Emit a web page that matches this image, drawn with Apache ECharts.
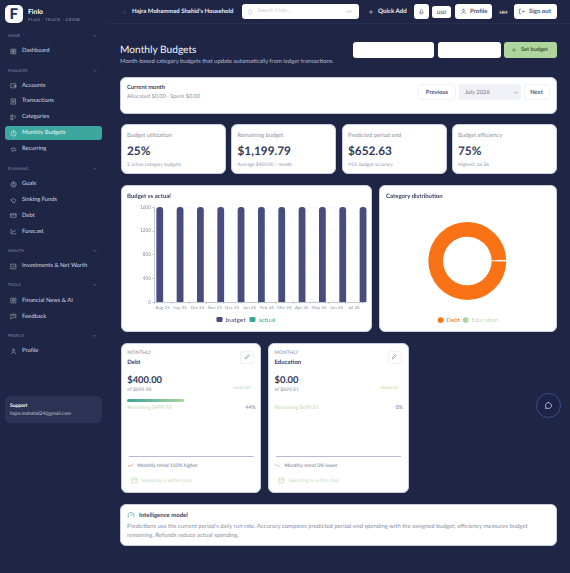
<!DOCTYPE html>
<html><head><meta charset="utf-8">
<script src="https://cdn.jsdelivr.net/npm/echarts@6/dist/echarts.min.js"></script>
<style>
html,body{margin:0;padding:0;width:570px;height:573px;overflow:hidden;background:#1e2545;font-family:Lato,sans-serif;text-rendering:geometricPrecision}
.t{position:absolute;white-space:nowrap;transform:translateY(-50%);line-height:1;margin-top:.4px}
.b{position:absolute;box-sizing:border-box}
.card{position:absolute;box-sizing:border-box;background:#fff;border-radius:6px;border:1px solid #c9cfe0}
svg{position:absolute;fill:none;stroke-linecap:round;stroke-linejoin:round}
#c1,#c2{position:absolute}
</style></head><body>
<div id="c1" style="left:121px;top:185px;width:250px;height:147px;z-index:3"></div>
<div id="c2" style="left:379px;top:185px;width:178px;height:147px;z-index:3"></div>
<script>
const months=['Aug 25','Sep 25','Oct 25','Nov 25','Dec 25','Jan 26','Feb 26','Mar 26','Apr 26','May 26','Jun 26','Jul 26'];
const budgetValues=[1600,1600,1600,1600,1600,1600,1600,1600,1600,1600,1600,1600];
const actualValues=[0,0,0,0,0,0,0,0,0,0,0,0];
const yTicks=[0,400,800,1200,1600];
const categoryNames=['Debt','Education'];
const categoryValues=[400,0];
const icons={grid:['M4 4h7v7H4zM13 4h7v7h-7zM4 13h7v7H4zM13 13h7v7h-7z'],wallet:['M4 6h16v14H4zM15 12h5v4h-5z'],list:['M5 3h14v18H5zM9 8h6M9 12h6M9 16h4'],tag:['M4 4h6v6H4zM14 4l6 6-6 6M4 14h6v6H4z'],clock:['M12 3a9 9 0 1 0 0 18a9 9 0 0 0 0-18M12 7v5l3 2'],loop:['M4 12V8h14l-3-3M20 12v4H6l3 3'],target:['M12 3a9 9 0 1 0 0 18a9 9 0 0 0 0-18M12 8a4 4 0 1 0 0 8a4 4 0 0 0 0-8'],pig:['M5 11c0-3 3-5 7-5s8 2 8 5-3 5-4 5v3h-7v-3c-2 0-4-2-4-5M3 9l2 2'],card:['M3 6h18v12H3zM3 10h18'],chart:['M4 4v16h16M7 15l4-5 3 3 5-6'],inv:['M4 4h16v16H4zM8 15l3-4 3 2 3-4'],news:['M4 4h16v16H4zM8 8h8M8 12h8M8 16h5'],msg:['M4 4h16v12H9l-5 4zM8 9h8'],user:['M12 4a4 4 0 1 0 0 8a4 4 0 0 0 0-8M5 20c1-4 4-6 7-6s6 2 7 6']};
const navItems=[['s','HOME',36],['i','Dashboard',51,'grid'],['s','FINANCES',70.5],['i','Accounts',85.5,'wallet'],['i','Transactions',101,'list'],['i','Categories',117,'tag'],['a','Monthly Budgets',133,'clock'],['i','Recurring',149,'loop'],['s','PLANNING',168.5],['i','Goals',184,'target'],['i','Sinking Funds',200,'pig'],['i','Debt',215.5,'card'],['i','Forecast',231.5,'chart'],['s','WEALTH',250.5],['i','Investments & Net Worth',266,'inv'],['s','TOOLS',285],['i','Financial News & AI',300.5,'news'],['i','Feedback',316.5,'msg'],['s','PROFILE',336],['i','Profile',351,'user']];
const kpis=[['Budget utilization','25%','2 active category budgets',120.5],['Remaining budget','$1,199.79','Average $400.00 / month',231],['Predicted period end','$652.63','41% budget accuracy',341.5],['Budget efficiency','75%','Highest: Jul 26',451.5]];
const budgets=[['Debt','$400.00','of $899.98','Remaining $499.98','44%','Monthly trend 100% higher',120.7,'#e4572e'],['Education','$0.00','of $699.81','Remaining $699.81','0%','Monthly trend 0% lower',268,'#7fb77e']];

function T(s,x,y,size,color,weight,extra){const e=document.createElement('div');e.className='t';e.textContent=s;
 e.style.cssText+=`left:${x}px;top:${y}px;font-size:${size}px;color:${color};font-weight:${weight||400};z-index:5;`+(extra||'');document.body.appendChild(e);return e}
function B(x,y,w,h,css,cls){const e=document.createElement('div');e.className=cls||'b';e.style.cssText+=`left:${x}px;top:${y}px;width:${w}px;height:${h}px;`+(css||'');document.body.appendChild(e);return e}
function I(x,y,s,color,paths,sw){const n='http://www.w3.org/2000/svg';const v=document.createElementNS(n,'svg');v.setAttribute('viewBox','0 0 24 24');v.setAttribute('width',s);v.setAttribute('height',s);v.style.cssText=`left:${x-s/2}px;top:${y-s/2}px;stroke:${color};stroke-width:${sw||2};z-index:5`;v.innerHTML=paths.map(d=>`<path d="${d}"/>`).join('');document.body.appendChild(v)}
const box='M4 4h16v16H4z',chev='M6 9l6 6 6-6',plus='M12 5v14M5 12h14';
const navIcon='#9fb3b0';
// sidebar
B(5,5,18,18,'background:#fff;border-radius:5px');
T('F',9.5,14,15,'#1e2f6e',900);
T('Finlo',28,12,6.8,'#fff',700);
T('PLAN · TRACK · GROW',28,19.5,3.9,'#9aa3bd',400,'letter-spacing:.62px');
B(5,125.5,96.5,14.5,'background:#3ba79f;border-radius:3px');
navItems.forEach(([k,s,y,ic])=>{
 if(k==='s'){T(s,8,y,3.7,'#8f97b3',400,'letter-spacing:.2px');I(95,y,5.5,'#8f97b3',[chev]);}
 else{T(s,22,y,5.8,k==='a'?'#eef8f6':'#d4d8e6',400);I(13,y,7,k==='a'?'#e6f5f2':navIcon,icons[ic]);}
});
B(5,396,96.5,27,'background:#2b3253;border-radius:5px');
T('Support',10,405.5,4.9,'#fff',700);
T('hajra.mshahid24@gmail.com',10,414,4.9,'#c3c8d9',400);
// header
B(108,23,462,1,'background:#272e50');
I(124,12,5,'#9aa3bd',['M15 6l-6 6 6 6']);
T("Hajra Mohammad Shahid's Household",132,12,6,'#eceef5',700);
B(242,4,117,15,'background:#fff;border-radius:3px');
I(250,12,6.5,'#b8bdcc',['M11 4a7 7 0 1 0 0 14a7 7 0 0 0 0-14M16 16l4 4']);
T('Search Finlo...',258,12,5.4,'#c8ccd8',400);
T('⌘K',346,12,4,'#c8ccd8',400);
I(371,11.5,6,'#eceef5',[plus]);
T('Quick Add',378,12,6.2,'#eceef5',700);
B(414,4,14.5,15,'background:#fff;border-radius:3px');
I(421,11.5,7,'#555b75',['M6 17h12l-2-3V10a4 4 0 0 0-8 0v4zM10 20h4']);
B(432,5.5,19,12,'background:#fff;border-radius:2.5px');
T('USD',441.5,12,4.6,'#555b75',700,'transform:translate(-50%,-50%)');
B(455,4,37,15,'background:#fff;border-radius:3px');
I(463,11.5,7,'#555b75',['M12 4a4 4 0 1 0 0 8a4 4 0 0 0 0-8M5 20c1-4 4-6 7-6s6 2 7 6']);
T('Profile',470,12,6,'#4c5270',700);
T('HM',503.5,12,4.6,'#e6e8f0',700,'transform:translate(-50%,-50%)');
B(514,4,42.5,15,'background:#fff;border-radius:3px');
I(521,11.5,7,'#555b75',['M10 4H5v16h5M13 12h8M18 9l3 3-3 3']);
T('Sign out',529,12,6,'#4c5270',700);
// title row
T('Monthly Budgets',120,49.5,10.2,'#f4f5fa',400);
T('Month-based category budgets that update automatically from ledger transactions.',120,62,5.9,'#b5bbd0',400);
B(353,42,81,15.5,'background:#fff;border-radius:3px');
B(438,42,62.5,15.5,'background:#fff;border-radius:3px');
B(504,42,52.5,15.5,'background:#aed59c;border-radius:3px');
I(514,49.5,6,'#3f5a3c',[plus]);
T('Set budget',521,50,5.6,'#3f5a3c',700);
// current month
B(120.3,76.5,436.4,37.5,'border-radius:6px','card');
T('Current month',127,88,5.8,'#3c4160',700);
T('Allocated $0.00 · Spent $0.00',127,97,5.6,'#8d92a6',400);
B(418,84,38,15.5,'background:#fff;border:1px solid #f1f2f6;border-radius:3px');
T('Previous',437,92.5,5.8,'#4c5270',700,'transform:translate(-50%,-50%)');
B(458.5,84,62.5,15.5,'background:#f1f2f7;border-radius:3px');
T('July 2026',465,92.5,5.8,'#6f7590',400);
I(516,92.5,5.5,'#4c5270',[chev]);
B(523.5,84,26.5,15.5,'background:#fff;border:1px solid #f1f2f6;border-radius:3px');
T('Next',536.5,92.5,5.8,'#4c5270',700,'transform:translate(-50%,-50%)');
// KPI
kpis.forEach(([a,v,s,x])=>{
 B(x,124,105,50.3,'','card');
 T(a,x+6.5,135.5,5.8,'#8a8fa3',400);
 T(v,x+6.5,151,11.8,'#33385a',700);
 T(s,x+6.5,164.5,4.8,'#9095a8',400);
});
// chart cards
B(120.7,184.7,251,147.5,'','card');
B(379,184.7,177.7,147.5,'','card');
T('Budget vs actual',127,196.5,6,'#3c4160',700);
T('Category distribution',386,196.5,6,'#3c4160',700);
// budget cards
budgets.forEach(([n,v,o,r,p,tr,x,ic],i)=>{
 B(x,342.7,140.7,150.6,'','card');
 T('MONTHLY',x+6.5,353,4.9,'#8a8fa3',400);
 T(n,x+6.5,362.5,6,'#3c4160',700);
 B(x+119.5,350.5,14,13,'background:#fff;border:1px solid #f0f1f5;border-radius:3px');
 I(x+126.5,356.5,7,'#6f7590',['M5 19l1-4L16 5l3 3L9 18z']);
 T(v,x+6.5,380.5,9.4,'#33385a',700);
 T(o,x+6.5,390,5,'#8a8fa3',400);
 T('HEALTHY',x+112.5,388,3.9,'#c3dcb8',700);
 T(r,x+6.5,408.5,5.2,'#bcd9af',400);
 const pe=T(p,0,408.5,5.2,'#6f7590',400);pe.style.left='auto';pe.style.right=(570-(x+135))+'px';
 if(i===0)B(x+6.5,399,56.5,3,'background:linear-gradient(90deg,#3aa39b,#aed59c);border-radius:2px');
 B(x+8,456,125,1,'background:#b9b8d6');
 I(x+9.5,465.5,7,ic,i===0?['M3 17l6-6 4 4 8-8']:['M3 7l6 6 4-4 8 8']);
 T(tr,x+16.5,465.5,5,'#6f7590',400);
 I(x+13.5,480.5,7,'#aed59c',[box,'M4 10h16']);
 T('Spending is within plan',x+20.5,480.5,5,'#c3dcb8',400);
});
// intelligence
B(120.3,503.7,436.4,42.6,'','card');
I(131,515,8,'#3ba79f',['M4 17a9 9 0 1 1 16 0M12 14l3-4']);
T('Intelligence model',139,515.5,6,'#3c4160',700);
T("Predictions use the current period's daily run rate. Accuracy compares predicted period-end spending with the assigned budget; efficiency measures budget",127,527,5.92,'#8a8fa3',400);
T('remaining. Refunds reduce actual spending.',127,535.5,5.92,'#8a8fa3',400);
// chat bubble
B(535.5,392.5,25,25,'background:#1c2347;border:1px solid #3d4f86;border-radius:50%');
I(548,405,9,'#d6dbe8',['M12 4a8 8 0 1 1-4 15l-4 1 1-4a8 8 0 0 1 7-12']);

// bar chart: bars sit on a wider band than the labels, so each has its own axis
const c1=echarts.init(document.getElementById('c1'),null,{renderer:'canvas'});
const bandCount=211/20.33;
c1.setOption({animation:false,
 legend:{bottom:4,left:'center',itemWidth:6,itemHeight:5,itemGap:4,icon:'roundRect',
  textStyle:{fontSize:6.5,fontFamily:'Lato',padding:[0,0,0,-2]},
  data:[{name:'budget',textStyle:{color:'#474d7d'}},{name:'actual',textStyle:{color:'#3aa59c'}}]},
 grid:[{left:33,top:22,width:208.5,height:95},{left:33,top:22,width:211,height:95}],
 xAxis:[
  {type:'category',gridIndex:0,data:months,axisLine:{show:false},axisTick:{show:true,length:2,lineStyle:{color:'#b5b8c6',width:.6}},
   axisLabel:{fontSize:4.5,color:'#8d92a6',margin:3,interval:0,fontFamily:'Lato'},splitLine:{show:true,lineStyle:{color:'#f4f5f8',type:'dashed',width:.5}}},
  {type:'value',gridIndex:1,min:0,max:bandCount,show:true,axisLabel:{show:false},axisTick:{show:false},splitLine:{show:false},axisLine:{lineStyle:{color:'#aeb2c2',width:.7}}}],
 yAxis:[
  {type:'value',gridIndex:0,min:0,max:1600,interval:400,axisLine:{show:true,lineStyle:{color:'#aeb2c2',width:.7}},axisTick:{show:true,length:2,lineStyle:{color:'#b5b8c6',width:.6}},
   axisLabel:{fontSize:4.7,color:'#8d92a6',margin:3,fontFamily:'Lato',formatter:v=>String(v)},splitLine:{lineStyle:{color:'#f1f2f6',type:'dashed',width:.5}}},
  {type:'value',gridIndex:1,min:0,max:1600,show:false}],
 series:[
  {name:'budget',type:'bar',xAxisIndex:1,yAxisIndex:1,barWidth:6.8,barGap:'30%',clip:true,
   data:budgetValues.map((v,i)=>[i+.5,v]),itemStyle:{color:'#474d7d',borderRadius:[3,3,0,0]}},
  {name:'actual',type:'bar',xAxisIndex:1,yAxisIndex:1,barWidth:6.8,barGap:'30%',clip:true,
   data:actualValues.map((v,i)=>[i+.5,v]),itemStyle:{color:'#3aa59c',borderRadius:[3,3,0,0]}}]
});
// donut
const c2=echarts.init(document.getElementById('c2'),null,{renderer:'canvas'});
c2.setOption({animation:false,
 legend:{bottom:4,left:'center',itemWidth:5.7,itemHeight:5.7,itemGap:3,icon:'circle',
  textStyle:{fontSize:6.1,fontFamily:'Lato',padding:[0,0,0,-2]},
  data:[{name:'Debt',textStyle:{color:'#f97316'}},{name:'Education',textStyle:{color:'#c3dcb8'}}]},
 series:[{type:'pie',center:[88.3,76],radius:[24.3,39],startAngle:0,padAngle:1.2,label:{show:false},labelLine:{show:false},stillShowZeroSum:true,
  data:categoryNames.map((n,i)=>({name:n,value:categoryValues[i],itemStyle:{color:i?'#aed59c':'#f97316'}}))}]
});
</script></body></html>
